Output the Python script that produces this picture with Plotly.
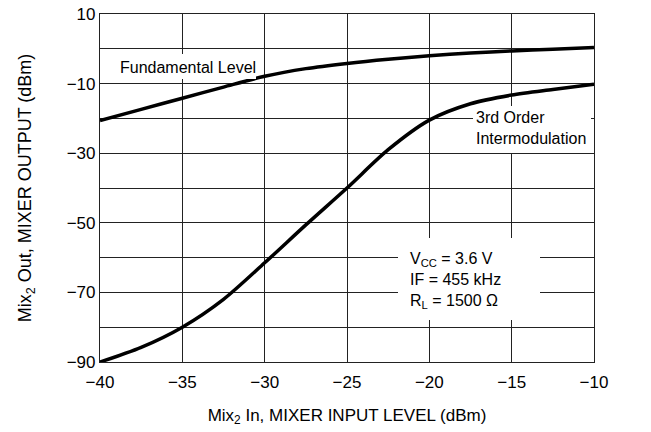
import plotly.graph_objects as go

# Data
x_in = [-40, -37.5, -35, -32.5, -30, -27.5, -25, -22.5, -20, -17.5, -15, -12.5, -10]
fundamental = [-20.6, -17.4, -14.2, -11.0, -7.9, -5.7, -4.2, -3.0, -2.0, -1.2, -0.6, -0.1, 0.4]
third_order = [-90.0, -85.8, -80.0, -72.0, -61.5, -50.6, -40.0, -29.0, -20.5, -15.8, -13.3, -11.7, -10.2]

x_ticks = [-40, -35, -30, -25, -20, -15, -10]
y_ticks = [-90, -80, -70, -60, -50, -40, -30, -20, -10, 0, 10]
y_ticktext = ["−90", "", "−70", "", "−50", "", "−30", "", "−10", "", "10"]
x_ticktext = ["−40", "−35", "−30", "−25", "−20", "−15", "−10"]

FONT = "Liberation Sans, Arial, Helvetica, sans-serif"
W, H = 651, 432
L, R, T, B = 100, 57, 14, 70
pw, ph = W - L - R, H - T - B


def px(xp):
    return (xp - L) / pw


def py(yp):
    return 1 - (yp - T) / ph


def white_box(x0, y0, x1, y1):
    # empty white annotation used to mask the grid behind a label
    return dict(xref="paper", yref="paper", x=px((x0 + x1) / 2), y=py((y0 + y1) / 2),
                xanchor="center", yanchor="middle", text="&nbsp;", showarrow=False,
                width=x1 - x0, height=y1 - y0, bgcolor="white", borderpad=0, borderwidth=0)


fig = go.Figure()
fig.add_trace(go.Scatter(x=x_in, y=fundamental, mode="lines", line=dict(color="black", width=3.5, shape="spline", smoothing=0.8), showlegend=False))
fig.add_trace(go.Scatter(x=x_in, y=third_order, mode="lines", line=dict(color="black", width=3.5, shape="spline", smoothing=0.8), showlegend=False))

for b in [white_box(119, 54, 256, 79), white_box(473, 106, 591, 153), white_box(398, 238, 540, 320)]:
    fig.add_annotation(**b)

ann_font = dict(family=FONT, size=16, color="black")
fig.add_annotation(xref="paper", yref="paper", x=px(188), y=py(67), xanchor="center", yanchor="middle",
                   text="Fundamental Level", showarrow=False, font=ann_font)
fig.add_annotation(xref="paper", yref="paper", x=px(474), y=py(128), xanchor="left", yanchor="middle", align="left",
                   text="3rd Order<br>Intermodulation", showarrow=False, font=ann_font)
fig.add_annotation(xref="paper", yref="paper", x=px(408), y=py(280), xanchor="left", yanchor="middle", align="left",
                   text="V<sub>CC</sub> = 3.6 V<br>IF = 455 kHz<br>R<sub>L</sub> = 1500 Ω",
                   showarrow=False, font=ann_font)

axis_common = dict(showline=True, linecolor="#222", linewidth=1.2, mirror=True,
                   showgrid=True, gridcolor="#222", gridwidth=1, zeroline=False, automargin=True,
                   ticks="", tickfont=dict(family=FONT, size=17, color="black"))
fig.update_xaxes(range=[-40, -10], tickvals=x_ticks, ticktext=x_ticktext, ticklabelstandoff=4,
                 title=dict(text="Mix<sub>2</sub> In, MIXER INPUT LEVEL (dBm)", font=dict(family=FONT, size=17, color="black"), standoff=18),
                 **axis_common)
fig.update_yaxes(range=[-90, 10], tickvals=y_ticks, ticktext=y_ticktext,
                 title=dict(text="Mix<sub>2</sub> Out, MIXER OUTPUT (dBm)", font=dict(family=FONT, size=18, color="black"), standoff=30),
                 **axis_common)
fig.update_layout(width=W, height=H, margin=dict(l=L, r=R, t=T, b=B, autoexpand=False),
                  plot_bgcolor="white", paper_bgcolor="white")
fig.write_html("out.html", config={"displayModeBar": False},
               post_script="document.body.style.margin='0px';")
